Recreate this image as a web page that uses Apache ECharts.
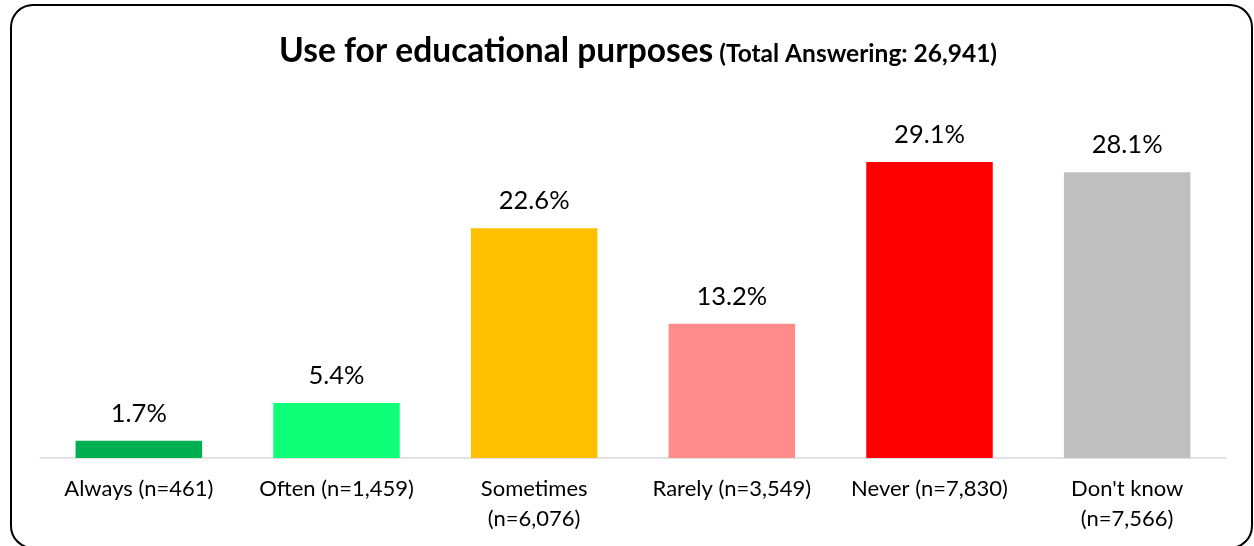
<!DOCTYPE html>
<html>
<head>
<meta charset="utf-8">
<script src="https://cdn.jsdelivr.net/npm/echarts@6/dist/echarts.min.js"></script>
<style>
  html, body { margin: 0; padding: 0; background: #fff; }
  #chart { width: 1254px; height: 546px; }
</style>
</head>
<body>
<div id="chart"></div>
<script>
// Response categories (with respondent counts) and their share of answers, in percent
const categories = [
  'Always (n=461)',
  'Often (n=1,459)',
  'Sometimes\n(n=6,076)',
  'Rarely (n=3,549)',
  'Never (n=7,830)',
  "Don't know\n(n=7,566)"
];
const percentages = [1.7, 5.4, 22.6, 13.2, 29.1, 28.1];
const barColors = ['#00B050', '#10FF78', '#FFC000', '#FF8B8B', '#FF0000', '#BFBFBF'];

const titleMain = 'Use for educational purposes';
const titleSub = '(Total Answering: 26,941)';

const FONT = 'Lato';

const chart = echarts.init(document.getElementById('chart'), null, { renderer: 'canvas' });

chart.setOption({
  backgroundColor: '#ffffff',
  animation: false,
  title: {
    text: '{m|' + titleMain + '}{s| ' + titleSub + '}',
    left: 274,
    top: 29,
    textStyle: {
      rich: {
        m: { fontFamily: FONT, fontWeight: 'bold', fontSize: 33.5, color: '#000' },
        s: { fontFamily: FONT, fontWeight: 'bold', fontSize: 24.5, color: '#000', padding: [6, 0, 0, 0] }
      }
    }
  },
  graphic: [{
    type: 'rect',
    shape: { x: 11, y: 5, width: 1241, height: 543, r: 22 },
    style: { fill: 'none', stroke: '#000', lineWidth: 2 },
    silent: true,
    z: 100
  }],
  grid: { left: 40, right: 28, top: 102, bottom: 88, containLabel: false },
  xAxis: {
    type: 'category',
    data: categories,
    axisLine: { show: true, lineStyle: { color: '#D9D9D9', width: 1.5 } },
    axisTick: { show: false },
    axisLabel: {
      interval: 0,
      margin: 16,
      fontFamily: FONT,
      fontSize: 22,
      lineHeight: 30,
      color: '#000'
    }
  },
  yAxis: {
    type: 'value',
    min: 0,
    max: 35,
    show: false,
    splitLine: { show: false }
  },
  series: [{
    type: 'bar',
    barWidth: '64%',
    data: percentages.map((v, i) => ({ value: v, itemStyle: { color: barColors[i] } })),
    label: {
      show: true,
      position: 'top',
      distance: 14,
      fontFamily: FONT,
      fontSize: 25.5,
      color: '#000',
      formatter: p => p.value.toFixed(1) + '%'
    }
  }]
});
</script>
</body>
</html>
